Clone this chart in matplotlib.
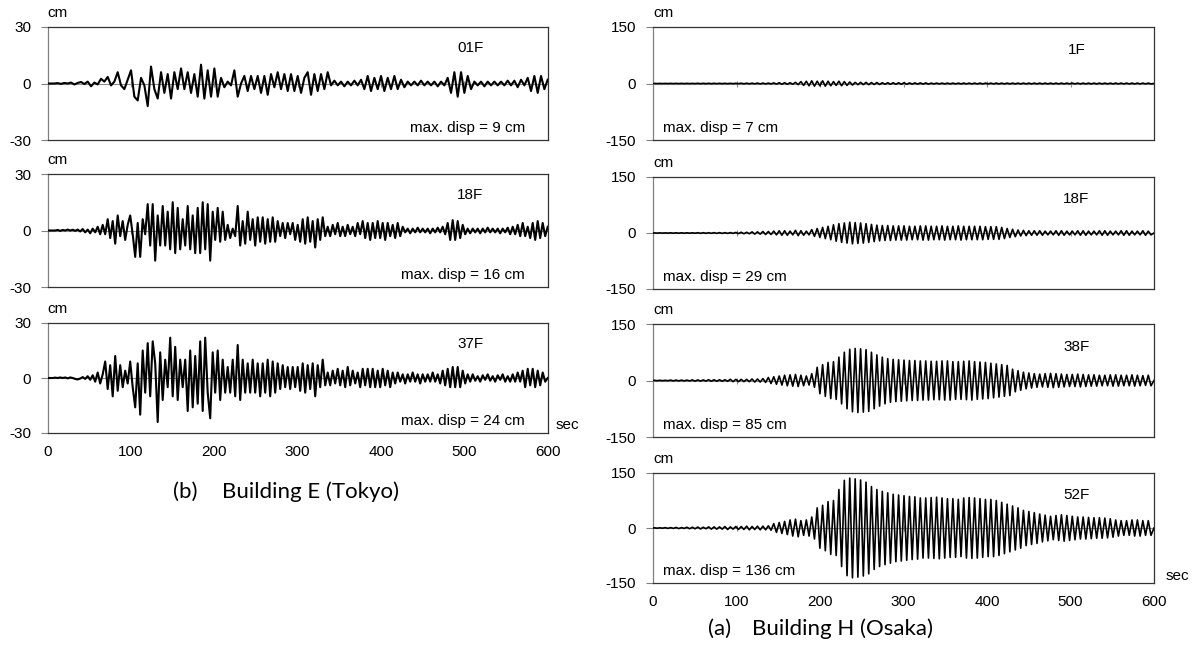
import numpy as np
import matplotlib
matplotlib.use('Agg')
import matplotlib.pyplot as plt

plt.rcParams['font.family'] = ['Liberation Sans', 'DejaVu Sans']

# --- Building E (Tokyo): displacement extrema (cm), evenly spaced over 0-600 s
tokyo_01F = [0, 0, 0, 0.2, -0.2, 0.3, 0, 0.5, -0.5, 0.3,
             0.8, -0.3, 1, -1.5, 0.5, -0.5, 2.5, 1, 3.5, -1,
             1, 6, -1, -3, 2, 7, -7, -9, 3, -1,
             -12, 9, -3, -8, 6, -5, 5, -8, 6, -3,
             8, -3, 6, -5, 5, -7, 10, -8, 7, -7,
             8, -7, 3, -2, 1, -1, 7, -7, 0, 4,
             -4, 4, -3, 4, -5, 4, -6, 5, -2, 6,
             -3, 5, -4, 5, -4, 4, -5, 3, 6, -6,
             5, -4, 5, -3, 6, -1, 1.5, -1, 1, -1.5,
             1, -1, 1.5, -1, 2, -3, 4, -4, 3, -3,
             4, -4, 3, -3, 4, -3, 2, -2, 1, -1,
             1, -1, 1.5, -1, 1, -1, 1, -1.5, 1, -1,
             3, -5, 6, -7, 6, -5, 4, -3, 1, -1,
             1, -1.5, 1, -1, 1, -1, 1, -1, 1.5, -1,
             1.5, -2, 2, -1, 3, -4, 4, -5, 4, -3,
             2]
tokyo_18F = [0, 0, 0, 0, 0.3, -0.2, 0.3, 0, 0.5, 0,
             0.4, -0.2, 0.5, -0.5, 0.8, -1, 0.5, -1.5, 1, -1,
             2, -2, 3, -2, 6, -4, 5, -7, 8, -3,
             5, -5, 3, 8, -2, -14, 4, -14, 6, -2,
             14, -8, 14, -16, 8, -8, 13, -8, 10, -10,
             15, -12, 12, -10, 6, -8, 13, -10, 8, -12,
             12, -12, 15, -10, 14, -16, 10, -5, 12, -6,
             10, -5, 3, -4, 1, -3, 13, -8, 5, -7,
             10, -5, 6, -8, 7, -6, 7, -7, 6, -6,
             7, -6, 5, -3, 4, -4, 4, -2, 4, -5,
             3, -6, 6, -7, 7, -6, 5, -9, 6, -5,
             7, -3, 2, -3, 3, -2, 4, -3, 2, -3,
             3, -2, 2, -3, 4, -2, 5, -4, 4, -5,
             4, -4, 5, -4, 4, -5, 4, -3, 3, -4,
             4, -3, 2, -1, 1, -1.5, 1, -1, 1.5, -1,
             1, -1, 1, -1.5, 1, -1, 1.5, -1, 2, -2,
             4, -5, 5.5, -5, 5, -4, 3, -2, 1, -1.5,
             1, -1, 1, -1.5, 1, -1, 1.5, -1, 1, -1,
             1, -1.5, 1, -1, 1.5, -2, 2, -2, 3, -3,
             4, -3, 2, -4, 4, -5, 5, -4, 4, -3,
             2]
tokyo_37F = [0, 0, 0, 0.2, 0, 0.3, 0, 0.3, -0.2, 0.3,
             0, -0.5, -0.8, -0.3, 0.5, -0.5, 1, -1, 1.5, -2,
             3, -3, 2, 9, -6, 7, -10, 12, -7, 7,
             -5, 4, -3, 9, -5, -16, 8, -20, 15, -8,
             19, -10, 20, 8, -24, 14, -12, 10, -5, 22,
             -10, 17, -12, 10, -5, 10, -18, 15, -16, 12,
             -14, 20, -18, 22, -8, -22, 14, -8, 15, -12,
             10, -8, 6, -8, 10, -10, 18, -12, 10, -8,
             8, -8, 10, -8, 8, -10, 8, -8, 10, -10,
             9, -8, 8, -6, 7, -5, 6, -6, 6, -5,
             6, -7, 8, -8, 7, -6, 8, -10, 7, -5,
             10, -4, 3, -4, 4, -3, 5, -4, 4, -5,
             6, -4, 4, -3, 3, -5, 5, -4, 5, -5,
             5, -5, 4, -5, 5, -4, 4, -5, 3, -3,
             3, -2, 2, -3, 2, -2, 3, -2, 2, -3,
             2, -2, 2, -2, 3, -2, 2, -3, 4, -4,
             5, -5, 6, -5, 6, -5, 4, -3, 2, -2,
             2, -1.5, 1, -2, 1.5, -1, 2, -1.5, 1, -2,
             1.5, -1, 2, -2, 1, -2, 2, -2, 3, -2,
             4, -5, 5, -4, 5, -5, 4, -4, 3, -2,
             0]

# --- Building H (Osaka): peak amplitude of each cycle (cm), one cycle every ~6.5 s
osaka_period = 6.5
osaka_1F = [0.2, 0.2, 0.2, 0.3, 0.3, 0.3, 0.3, 0.3, 0.5, 0.5,
            0.5, 0.5, 0.5, 0.5, 0.5, 0.5, 0.8, 0.8, 0.8, 1,
            1, 1, 1.5, 2, 2, 2, 3, 5, 6, 7,
            6, 7, 6, 5, 6, 5, 4, 3, 3, 3,
            2.5, 2.5, 2, 2, 2, 2, 2, 1.5, 1.5, 1.5,
            1.5, 1, 1, 1, 1, 1, 1, 1, 1, 1,
            1, 1, 1, 1, 1, 1, 1, 1, 1, 1,
            1, 1, 1, 1, 1, 1, 1, 1, 1, 1,
            1, 1, 1, 1, 1, 1, 1, 1, 1, 1,
            1, 1]
osaka_18F = [0.3, 0.3, 0.3, 0.5, 0.5, 0.5, 0.5, 0.5, 0.8, 0.8,
             0.8, 1, 1, 1, 1, 1.5, 2, 2, 3, 3,
             4, 4, 5, 6, 6, 5, 7, 6, 5, 9,
             12, 15, 18, 22, 25, 27, 29, 28, 27, 25,
             23, 21, 20, 20, 19, 19, 19, 18, 18, 19,
             19, 18, 18, 19, 18, 18, 19, 18, 18, 18,
             18, 17, 17, 17, 15, 12, 10, 8, 7, 6,
             6, 6, 5, 5, 6, 6, 5, 5, 6, 6,
             5, 5, 6, 6, 5, 5, 6, 6, 5, 5,
             6, 5]
osaka_38F = [0.5, 0.5, 0.5, 1, 1, 1, 1, 1.5, 1.5, 1.5,
             2, 2, 2, 2, 3, 3, 3, 3, 4, 4,
             5, 8, 10, 12, 14, 15, 16, 14, 12, 18,
             35, 42, 48, 50, 62, 75, 83, 85, 84, 82,
             75, 68, 62, 58, 56, 55, 54, 53, 53, 52,
             52, 51, 51, 52, 52, 50, 50, 51, 52, 50,
             49, 48, 46, 44, 42, 40, 30, 26, 22, 20,
             18, 17, 18, 19, 18, 17, 16, 16, 17, 16,
             15, 15, 14, 14, 15, 15, 14, 14, 15, 14,
             13, 14]
osaka_52F = [0.5, 0.5, 1, 1, 1.5, 1, 2, 2, 2.5, 2,
             3, 3, 3, 4, 3, 4, 4, 5, 4, 5,
             5, 6, 12, 15, 18, 22, 24, 20, 22, 30,
             55, 62, 72, 75, 105, 130, 136, 134, 131, 125,
             113, 105, 100, 96, 92, 90, 88, 86, 85, 82,
             82, 83, 84, 82, 80, 80, 78, 82, 83, 82,
             80, 78, 78, 75, 70, 65, 60, 55, 48, 45,
             42, 38, 35, 32, 34, 36, 34, 32, 30, 30,
             29, 28, 28, 27, 25, 22, 20, 20, 22, 22,
             20, 20]

tokyo_floors = ['01F', '18F', '37F']
tokyo_max = [9, 16, 24]
osaka_floors = ['1F', '18F', '38F', '52F']
osaka_max = [7, 29, 85, 136]


def osaka_trace(amps, period):
    t, y = [0.0], [0.0]
    for i, a in enumerate(amps):
        t += [i * period + period / 4, i * period + 3 * period / 4]
        y += [a, -a]
    t.append(600.0)
    y.append(0.0)
    return np.array(t), np.array(y)


W, H = 1199, 651
fig = plt.figure(figsize=(W / 100, H / 100), dpi=100)


def add_panel(x0, x1, top, bot, lim, show_x):
    ax = fig.add_axes([x0 / W, 1 - bot / H, (x1 - x0) / W, (bot - top) / H])
    ax.set_xlim(0, 600)
    ax.set_ylim(-lim, lim)
    ax.set_yticks([-lim, 0, lim])
    ax.set_yticklabels([f'-{lim}', '0', f'{lim}'])
    ax.set_xticks(range(0, 601, 100))
    ax.tick_params(axis='x', length=0, pad=9, labelbottom=show_x, labelsize=11)
    ax.tick_params(axis='y', length=5, width=0.8, color='#808080', pad=7, labelsize=11)
    for s in ['top', 'right', 'bottom']:
        ax.spines[s].set_color('#333333')
        ax.spines[s].set_linewidth(0.9)
    ax.spines['left'].set_color('#808080')
    ax.spines['left'].set_linewidth(0.9)
    ax.axhline(0, color='#8c8c8c', lw=0.8, zorder=1)
    ax.plot(range(100, 600, 100), [0] * 5, '|', color='#8c8c8c', ms=4, mew=0.8, zorder=1)
    ax.annotate('cm', xy=(0, 1), xycoords='axes fraction', xytext=(0, 5),
                textcoords='offset points', ha='left', va='bottom', fontsize=11)
    return ax


# left column: Building E (Tokyo)
left_rows = [(27, 140), (174, 287), (323, 433)]
for k, (floor, vals) in enumerate(zip(tokyo_floors, [tokyo_01F, tokyo_18F, tokyo_37F])):
    top, bot = left_rows[k]
    ax = add_panel(47.7, 547.7, top, bot, 30, k == 2)
    t = np.linspace(0, 600, len(vals))
    ax.plot(t, vals, color='black', lw=1.5, zorder=3)
    ax.text(0.845, 0.81, floor, transform=ax.transAxes, ha='center', va='center', fontsize=11)
    ax.text(0.955, 0.11, f'max. disp = {tokyo_max[k]} cm', transform=ax.transAxes,
            ha='right', va='center', fontsize=11)
    if k == 2:
        ax.annotate('sec', xy=(1, 0), xycoords='axes fraction', xytext=(6, 6),
                    textcoords='offset points', ha='left', va='center', fontsize=11)

# right column: Building H (Osaka)
right_rows = [(27, 140), (177, 289), (324, 437), (473, 583)]
for k, (floor, amps) in enumerate(zip(osaka_floors, [osaka_1F, osaka_18F, osaka_38F, osaka_52F])):
    top, bot = right_rows[k]
    ax = add_panel(653, 1154, top, bot, 150, k == 3)
    t, y = osaka_trace(amps, osaka_period)
    ax.plot(t, y, color='black', lw=1.2, zorder=3)
    ax.text(0.845, 0.80, floor, transform=ax.transAxes, ha='center', va='center', fontsize=11)
    ax.text(0.02, 0.11, f'max. disp = {osaka_max[k]} cm', transform=ax.transAxes,
            ha='left', va='center', fontsize=11)
    if k == 3:
        ax.annotate('sec', xy=(1, 0), xycoords='axes fraction', xytext=(8, 5),
                    textcoords='offset points', ha='left', va='center', fontsize=11)

# captions
cap = dict(fontsize=16, family=['Lato', 'DejaVu Sans'], va='center', ha='left')
fig.text(173 / W, 1 - 492 / H, '(b)', **cap)
fig.text(222 / W, 1 - 492 / H, 'Building E (Tokyo)', **cap)
fig.text(708 / W, 1 - 629 / H, '(a)', **cap)
fig.text(752 / W, 1 - 629 / H, 'Building H (Osaka)', **cap)

fig.savefig('out.png', dpi=100)
